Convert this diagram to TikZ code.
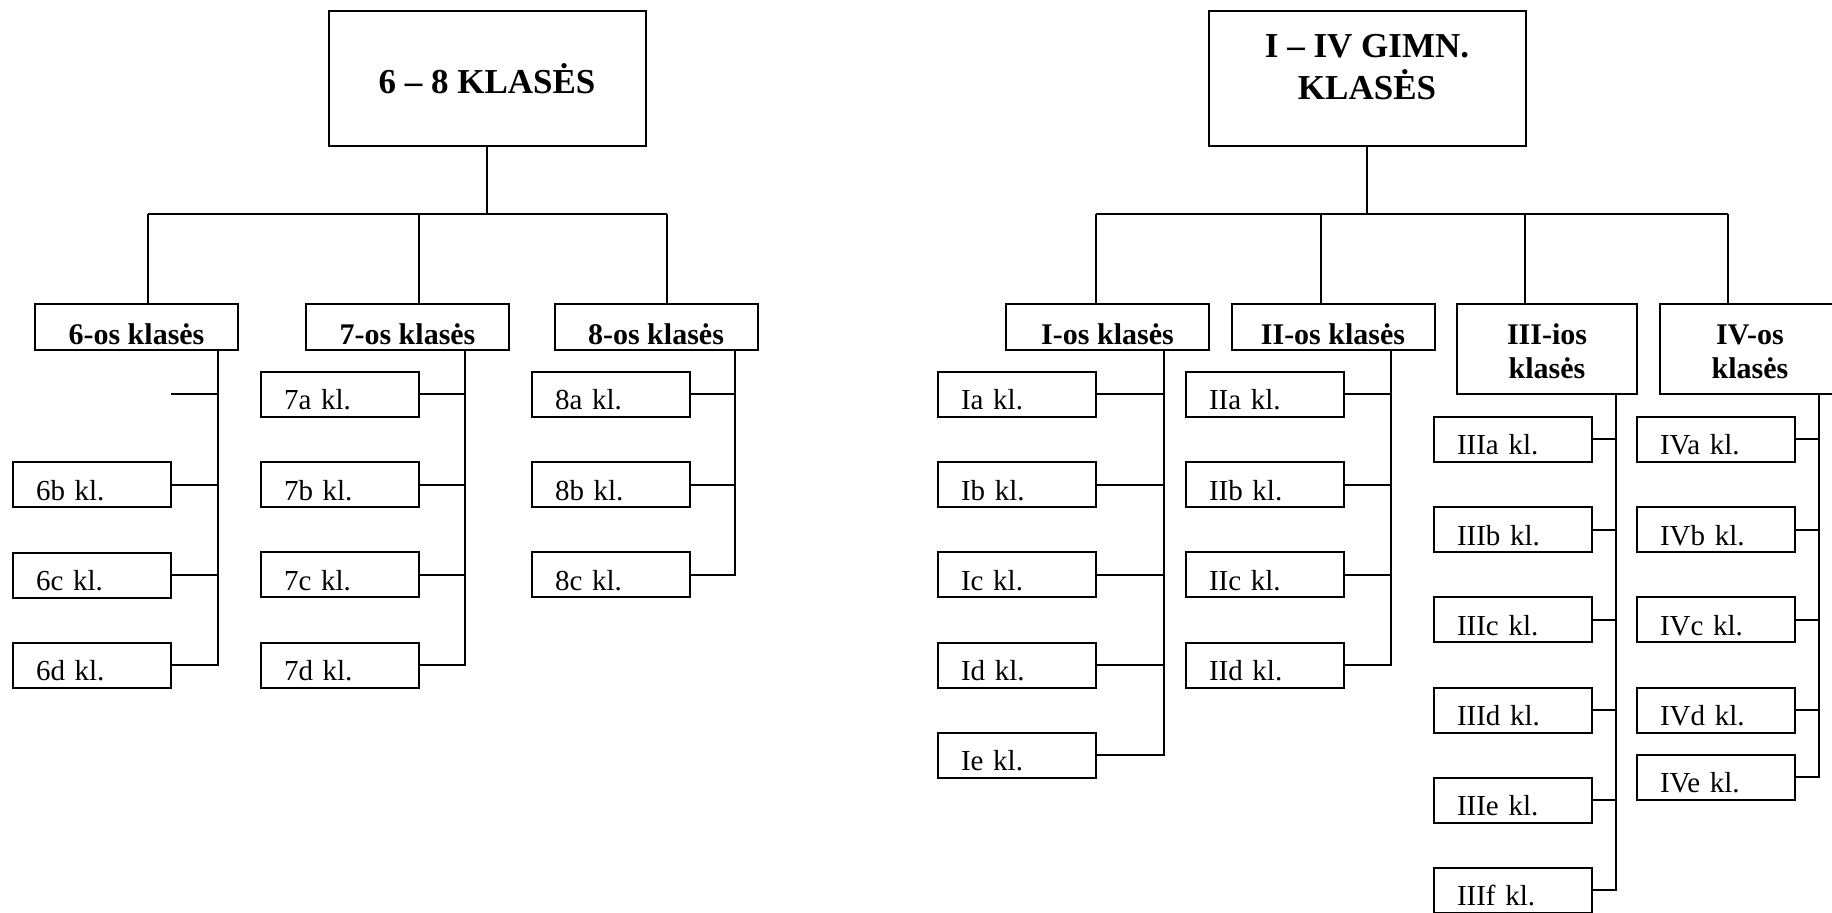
\documentclass[tikz,border=0pt]{standalone}
\usepackage{fontspec}
\setmainfont{Liberation Serif}
\usetikzlibrary{positioning}

\begin{document}
\begin{tikzpicture}[
    x=0.5pt, y=-0.5pt,
    node distance=21.6pt,
    head/.style={rectangle, draw, line width=1pt, minimum width=158.5pt, minimum height=67.5pt, align=center, font=\fontsize{17.5}{21}\selectfont\bfseries},
    grade/.style={rectangle, draw, line width=1pt, minimum width=101.5pt, minimum height=23pt, inner ysep=0pt, text height=20.5pt, text depth=2.5pt, font=\fontsize{15}{17.5}\selectfont\bfseries},
    gradetwo/.style={rectangle, draw, line width=1pt, minimum width=90pt, minimum height=45pt, inner ysep=0pt, text height=37.25pt, text depth=7.75pt, align=center, font=\fontsize{15}{17}\selectfont\bfseries},
    klase/.style={rectangle, draw, line width=1pt, text width=56pt, inner xsep=11.5pt, inner ysep=0pt, text height=19pt, text depth=3.5pt, minimum height=22.5pt, align=left, font=\fontsize{14.5}{17}\selectfont},
    link/.style={line width=1pt}
]
    \useasboundingbox (0,0) rectangle (1832,913);

    % 6-8 klases
    \node[head] (top68) at (487,78.5) {6 – 8 KLASĖS};
    \node[grade] (g6) at (136.5,327) {6-os klasės};
    \node[grade] (g7) at (407.5,327) {7-os klasės};
    \node[grade] (g8) at (656,327) {8-os klasės};

    \node[klase] (k6b) at (92,485) {6b kl.};
    \node[klase, below=of k6b] (k6c) {6c kl.};
    \node[klase, below=of k6c] (k6d) {6d kl.};

    \node[klase] (k7a) at (340,394.5) {7a kl.};
    \node[klase, below=of k7a] (k7b) {7b kl.};
    \node[klase, below=of k7b] (k7c) {7c kl.};
    \node[klase, below=of k7c] (k7d) {7d kl.};

    \node[klase] (k8a) at (611,394.5) {8a kl.};
    \node[klase, below=of k8a] (k8b) {8b kl.};
    \node[klase, below=of k8b] (k8c) {8c kl.};

    % I-IV gimn. klases
    \node[head, text depth=11.5pt] (topgim) at (1367,78.5) {I – IV GIMN.\\KLASĖS};
    \node[grade] (gI) at (1107.5,327) {I-os klasės};
    \node[grade] (gII) at (1333,327) {II-os klasės};
    \node[gradetwo] (gIII) at (1547,349) {III-ios\\klasės};
    \node[gradetwo] (gIV) at (1750,349) {IV-os\\klasės};

    \node[klase] (kIa) at (1017,394.5) {Ia kl.};
    \node[klase, below=of kIa] (kIb) {Ib kl.};
    \node[klase, below=of kIb] (kIc) {Ic kl.};
    \node[klase, below=of kIc] (kId) {Id kl.};
    \node[klase, below=of kId] (kIe) {Ie kl.};

    \node[klase] (kIIa) at (1265,394.5) {IIa kl.};
    \node[klase, below=of kIIa] (kIIb) {IIb kl.};
    \node[klase, below=of kIIb] (kIIc) {IIc kl.};
    \node[klase, below=of kIIc] (kIId) {IId kl.};

    \node[klase] (kIIIa) at (1513,439.5) {IIIa kl.};
    \node[klase, below=of kIIIa] (kIIIb) {IIIb kl.};
    \node[klase, below=of kIIIb] (kIIIc) {IIIc kl.};
    \node[klase, below=of kIIIc] (kIIId) {IIId kl.};
    \node[klase, below=of kIIId] (kIIIe) {IIIe kl.};
    \node[klase, below=of kIIIe] (kIIIf) {IIIf kl.};

    \node[klase] (kIVa) at (1716,439.5) {IVa kl.};
    \node[klase, below=of kIVa] (kIVb) {IVb kl.};
    \node[klase, below=of kIVb] (kIVc) {IVc kl.};
    \node[klase, below=of kIVc] (kIVd) {IVd kl.};
    \node[klase, below=10pt of kIVd] (kIVe) {IVe kl.};

    % Bus lines
    \coordinate (bus68) at (487,214);
    \coordinate (d6) at (148,214);
    \coordinate (d7) at (419,214);
    \coordinate (d8) at (667,214);
    \draw[link] (top68) -- (bus68);
    \draw[link] (d6) -- (d8);
    \draw[link] (d6) -- (d6 |- g6.north);
    \draw[link] (d7) -- (d7 |- g7.north);
    \draw[link] (d8) -- (d8 |- g8.north);

    \coordinate (busgim) at (1367,214);
    \coordinate (dI) at (1096,214);
    \coordinate (dII) at (1321,214);
    \coordinate (dIII) at (1525,214);
    \coordinate (dIV) at (1728,214);
    \draw[link] (topgim) -- (busgim);
    \draw[link] (dI) -- (dIV);
    \draw[link] (dI) -- (dI |- gI.north);
    \draw[link] (dII) -- (dII |- gII.north);
    \draw[link] (dIII) -- (dIII |- gIII.north);
    \draw[link] (dIV) -- (dIV |- gIV.north);

    % Class lines
    \coordinate (v6) at ([xshift=-10.5pt]g6.south east);
    \coordinate (v7) at ([xshift=-22.5pt]g7.south east);
    \coordinate (v8) at ([xshift=-12pt]g8.south east);
    \coordinate (s6a) at (171,394);
    \draw[link] (v6) |- (k6d);
    \draw[link] (s6a) -- (s6a -| v6);
    \draw[link] (k6b) -- (k6b -| v6);
    \draw[link] (k6c) -- (k6c -| v6);
    \draw[link] (v7) |- (k7d);
    \draw[link] (k7a) -- (k7a -| v7);
    \draw[link] (k7b) -- (k7b -| v7);
    \draw[link] (k7c) -- (k7c -| v7);
    \draw[link] (v8) |- (k8c);
    \draw[link] (k8a) -- (k8a -| v8);
    \draw[link] (k8b) -- (k8b -| v8);

    \coordinate (vI) at ([xshift=-23pt]gI.south east);
    \coordinate (vII) at ([xshift=-22.5pt]gII.south east);
    \coordinate (vIII) at ([xshift=-11pt]gIII.south east);
    \coordinate (vIV) at ([xshift=-11pt]gIV.south east);
    \draw[link] (vI) |- (kIe);
    \draw[link] (kIa) -- (kIa -| vI);
    \draw[link] (kIb) -- (kIb -| vI);
    \draw[link] (kIc) -- (kIc -| vI);
    \draw[link] (kId) -- (kId -| vI);
    \draw[link] (vII) |- (kIId);
    \draw[link] (kIIa) -- (kIIa -| vII);
    \draw[link] (kIIb) -- (kIIb -| vII);
    \draw[link] (kIIc) -- (kIIc -| vII);
    \draw[link] (vIII) |- (kIIIf);
    \draw[link] (kIIIa) -- (kIIIa -| vIII);
    \draw[link] (kIIIb) -- (kIIIb -| vIII);
    \draw[link] (kIIIc) -- (kIIIc -| vIII);
    \draw[link] (kIIId) -- (kIIId -| vIII);
    \draw[link] (kIIIe) -- (kIIIe -| vIII);
    \draw[link] (vIV) |- (kIVe);
    \draw[link] (kIVa) -- (kIVa -| vIV);
    \draw[link] (kIVb) -- (kIVb -| vIV);
    \draw[link] (kIVc) -- (kIVc -| vIV);
    \draw[link] (kIVd) -- (kIVd -| vIV);
\end{tikzpicture}
\end{document}
